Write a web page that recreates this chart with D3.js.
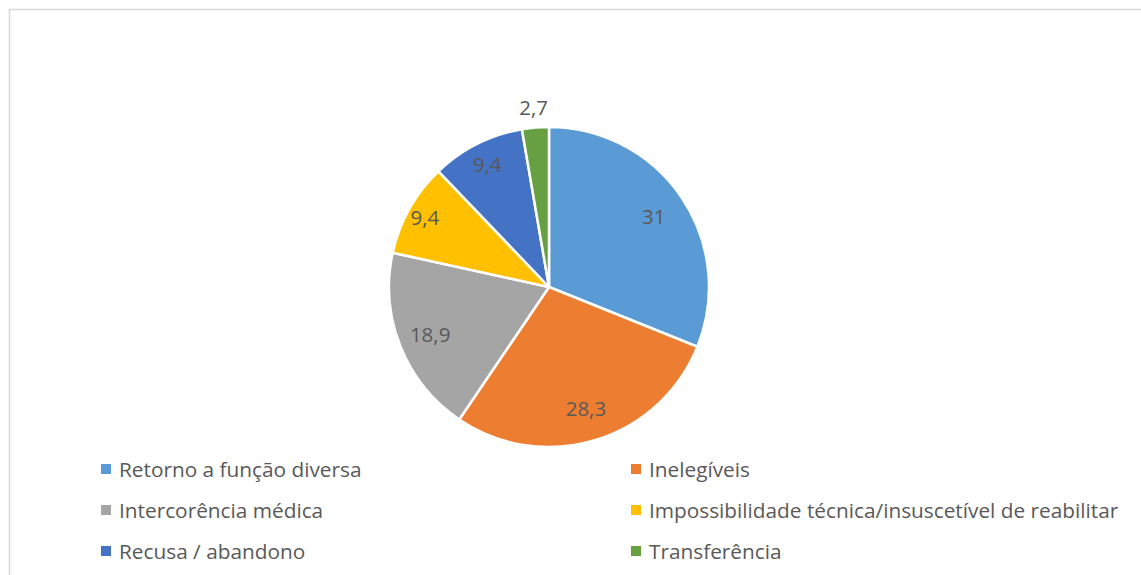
<!DOCTYPE html>
<html>
<head>
<meta charset="utf-8">
<script src="https://cdn.jsdelivr.net/npm/d3@7"></script>
<style>
  html, body { margin: 0; padding: 0; background: #fff; }
  svg { display: block; }
  text { font-family: "Open Sans", Lato, sans-serif; fill: #595959; }
</style>
</head>
<body>
<svg id="chart" width="1141" height="575"></svg>
<script>
// Motivos de saída (%)
const categories = [
  "Retorno a função diversa",
  "Inelegíveis",
  "Intercorência médica",
  "Impossibilidade técnica/insuscetível de reabilitar",
  "Recusa / abandono",
  "Transferência"
];
const values = [31, 28.3, 18.9, 9.4, 9.4, 2.7];
const valueLabels = ["31", "28,3", "18,9", "9,4", "9,4", "2,7"];
const colors = ["#5B9BD5", "#ED7D31", "#A5A5A5", "#FFC000", "#4472C4", "#66A043"];

// Label distance from centre, as a fraction of the radius
const labelRadius = [0.79, 0.79, 0.8, 0.89, 0.86, 1.13];

const W = 1141, H = 575;
const svg = d3.select("#chart");

// Chart frame
svg.append("rect")
  .attr("x", 9.5).attr("y", 9.5)
  .attr("width", W + 10).attr("height", H + 10)
  .attr("fill", "#fff")
  .attr("stroke", "#d9d9d9")
  .attr("stroke-width", 1.5);

const cx = 549, cy = 287, r = 160;

const pie = d3.pie().sort(null).value(d => d)(values);
const arc = d3.arc().innerRadius(0).outerRadius(r);

const g = svg.append("g").attr("transform", `translate(${cx},${cy})`);

g.selectAll("path.slice")
  .data(pie)
  .join("path")
  .attr("class", "slice")
  .attr("d", arc)
  .attr("fill", (d, i) => colors[i])
  .attr("stroke", "#fff")
  .attr("stroke-width", 2.5)
  .attr("stroke-linejoin", "round");

g.selectAll("text.val")
  .data(pie)
  .join("text")
  .attr("class", "val")
  .attr("transform", (d, i) => {
    const a = (d.startAngle + d.endAngle) / 2;
    const rr = r * labelRadius[i];
    return `translate(${Math.sin(a) * rr},${-Math.cos(a) * rr})`;
  })
  .attr("text-anchor", "middle")
  .attr("dominant-baseline", "central")
  .style("font-size", "20.5px")
  .text((d, i) => valueLabels[i]);

// Legend: two columns, three rows
const colX = [101, 631];
const rowY = [469, 510, 551];
const legend = svg.append("g");
categories.forEach((c, i) => {
  const x = colX[i % 2], y = rowY[Math.floor(i / 2)];
  const item = legend.append("g").attr("transform", `translate(${x},${y})`);
  item.append("rect")
    .attr("x", 0).attr("y", -5)
    .attr("width", 10).attr("height", 10)
    .attr("fill", colors[i]);
  item.append("text")
    .attr("x", 18).attr("y", 0)
    .attr("dominant-baseline", "central")
    .style("font-size", "20.8px")
    .text(c);
});
</script>
</body>
</html>
